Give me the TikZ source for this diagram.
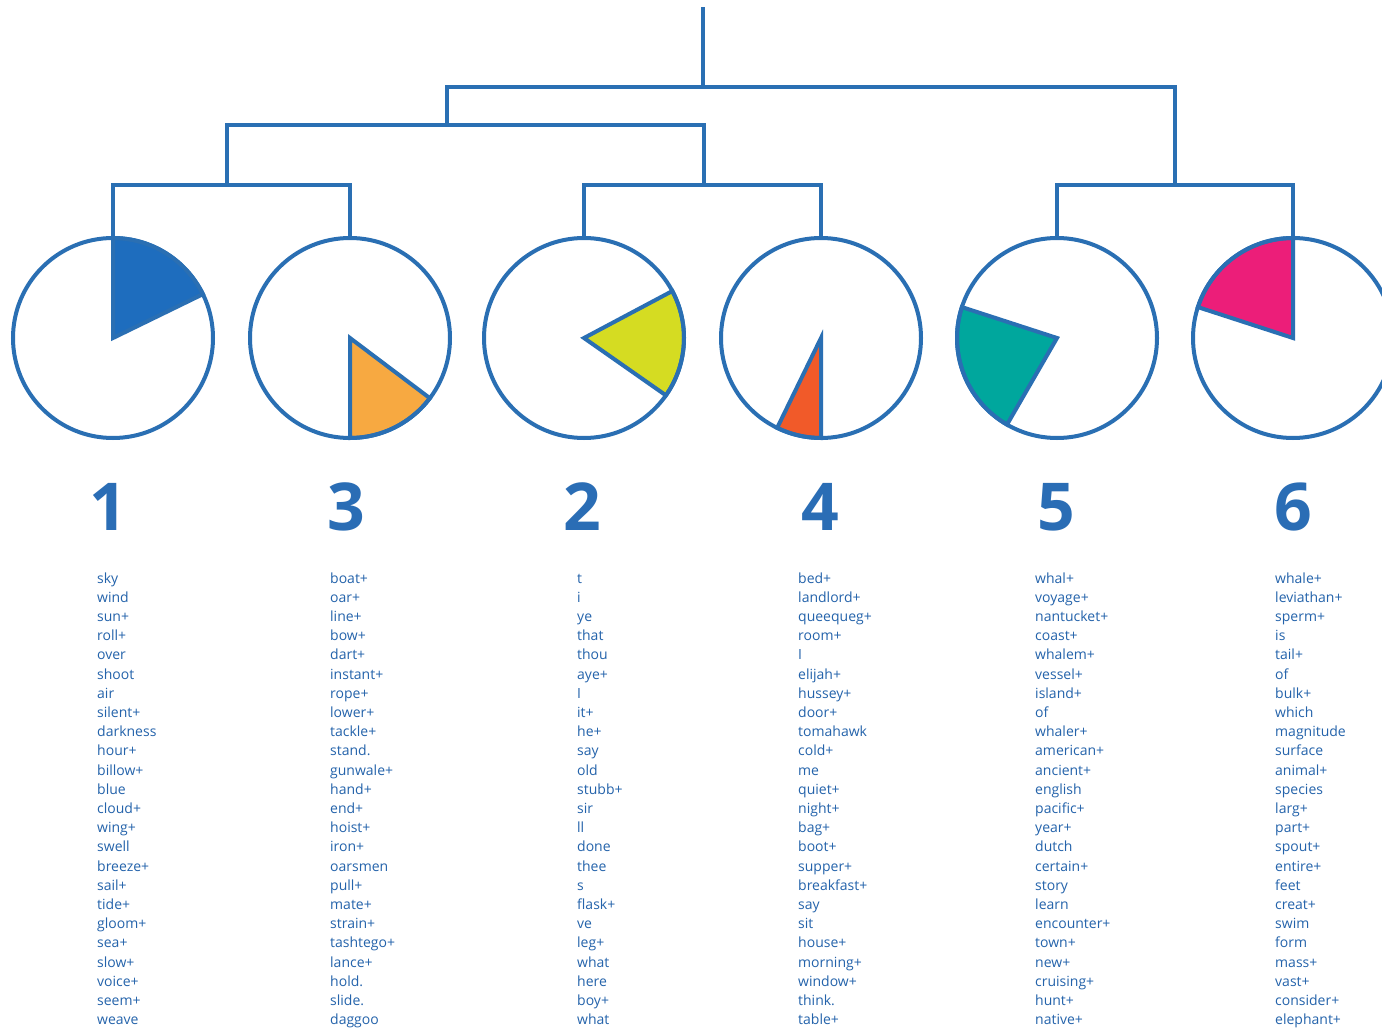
\documentclass[tikz,border=0pt]{standalone}
\usepackage{fontspec}
\setmainfont{Open Sans}
\definecolor{lineblue}{HTML}{2A6FB3}
\definecolor{wordblue}{HTML}{2463AB}
\definecolor{numblue}{HTML}{2A6DB5}
\definecolor{wblue}{HTML}{1E6DBE}
\definecolor{worange}{HTML}{F7A941}
\definecolor{wyellow}{HTML}{D5DC22}
\definecolor{wred}{HTML}{F15A29}
\definecolor{wteal}{HTML}{00A79D}
\definecolor{wpink}{HTML}{EC1E79}
\begin{document}
\begin{tikzpicture}[x=1pt,y=1pt,
  tree/.style={draw=lineblue, line width=4pt},
  pie/.style={circle, draw=lineblue, line width=4pt, minimum size=200pt, inner sep=0pt},
  wedge/.style={draw=lineblue, line width=4pt, line join=miter},
  num/.style={font=\bfseries\fontsize{66}{66}\selectfont, text=numblue, anchor=base, inner sep=0pt},
  word/.style={font=\fontsize{14}{16}\selectfont, text=wordblue, anchor=base west, inner sep=0pt}]
\useasboundingbox (0,0) rectangle (1382,-1030);
\clip (0,0) rectangle (1382,-1030);
\fill[white] (0,0) rectangle (1382,-1030);

% wedges
\path[wedge, fill=wblue]   (113,-338) -- ++(26:100) arc[start angle=26, end angle=90, radius=100] -- cycle;
\path[wedge, fill=worange] (350,-338) -- ++(-90:100) arc[start angle=-90, end angle=-37, radius=100] -- cycle;
\path[wedge, fill=wyellow] (584,-338) -- ++(-35:100) arc[start angle=-35, end angle=28, radius=100] -- cycle;
\path[wedge, fill=wred]    (821,-338) -- ++(244:100) arc[start angle=244, end angle=270, radius=100] -- cycle;
\path[wedge, fill=wteal]   (1057,-338) -- ++(162:100) arc[start angle=162, end angle=240, radius=100] -- cycle;
\path[wedge, fill=wpink]   (1293,-338) -- ++(90:100) arc[start angle=90, end angle=162, radius=100] -- cycle;

% circles
\node[pie] (c1) at (113,-338) {};
\node[pie] (c3) at (350,-338) {};
\node[pie] (c2) at (584,-338) {};
\node[pie] (c4) at (821,-338) {};
\node[pie] (c5) at (1057,-338) {};
\node[pie] (c6) at (1293,-338) {};

% tree junctions
\coordinate (a1) at (227,-185);
\coordinate (b1) at (704,-185);
\coordinate (e1) at (1175,-185);
\coordinate (l1) at (447,-125);
\coordinate (r1) at (703,-87);
\coordinate (top) at (703,-7);

\draw[tree] (c1.north) |- (a1) -| (c3.north);
\draw[tree] (c2.north) |- (b1) -| (c4.north);
\draw[tree] (c5.north) |- (e1) -| (c6.north);
\draw[tree] (a1) |- (l1) -| (b1);
\draw[tree] (l1) |- (r1) -| (e1);
\draw[tree] (r1) -- (top);

% numbers
\node[num] (n1) at (108,-530) {1};
\node[num] (n3) at (346,-530) {3};
\node[num] (n2) at (582,-530) {2};
\node[num] (n4) at (820,-530) {4};
\node[num] (n5) at (1056,-530) {5};
\node[num] (n6) at (1293,-530) {6};

% word lists
\foreach \w [count=\i] in {sky,wind,sun+,roll+,over,shoot,air,silent+,darkness,hour+,billow+,blue,cloud+,wing+,swell,breeze+,sail+,tide+,gloom+,sea+,slow+,voice+,seem+,weave}
  \node[word] (wa\i) at (97,{-583-19.2*(\i-1)}) {\w};
\foreach \w [count=\i] in {boat+,oar+,line+,bow+,dart+,instant+,rope+,lower+,tackle+,stand.,gunwale+,hand+,end+,hoist+,iron+,oarsmen,pull+,mate+,strain+,tashtego+,lance+,hold.,slide.,daggoo}
  \node[word] (wb\i) at (330,{-583-19.2*(\i-1)}) {\w};
\foreach \w [count=\i] in {t,i,ye,that,thou,aye+,I,it+,he+,say,old,stubb+,sir,ll,done,thee,s,flask+,ve,leg+,what,here,boy+,what}
  \node[word] (wc\i) at (577,{-583-19.2*(\i-1)}) {\w};
\foreach \w [count=\i] in {bed+,landlord+,queequeg+,room+,I,elijah+,hussey+,door+,tomahawk,cold+,me,quiet+,night+,bag+,boot+,supper+,breakfast+,say,sit,house+,morning+,window+,think.,table+}
  \node[word] (wd\i) at (798,{-583-19.2*(\i-1)}) {\w};
\foreach \w [count=\i] in {whal+,voyage+,nantucket+,coast+,whalem+,vessel+,island+,of,whaler+,american+,ancient+,english,pacific+,year+,dutch,certain+,story,learn,encounter+,town+,new+,cruising+,hunt+,native+}
  \node[word] (we\i) at (1035,{-583-19.2*(\i-1)}) {\w};
\foreach \w [count=\i] in {whale+,leviathan+,sperm+,is,tail+,of,bulk+,which,magnitude,surface,animal+,species,larg+,part+,spout+,entire+,feet,creat+,swim,form,mass+,vast+,consider+,elephant+}
  \node[word] (wf\i) at (1275,{-583-19.2*(\i-1)}) {\w};
\end{tikzpicture}
\end{document}
